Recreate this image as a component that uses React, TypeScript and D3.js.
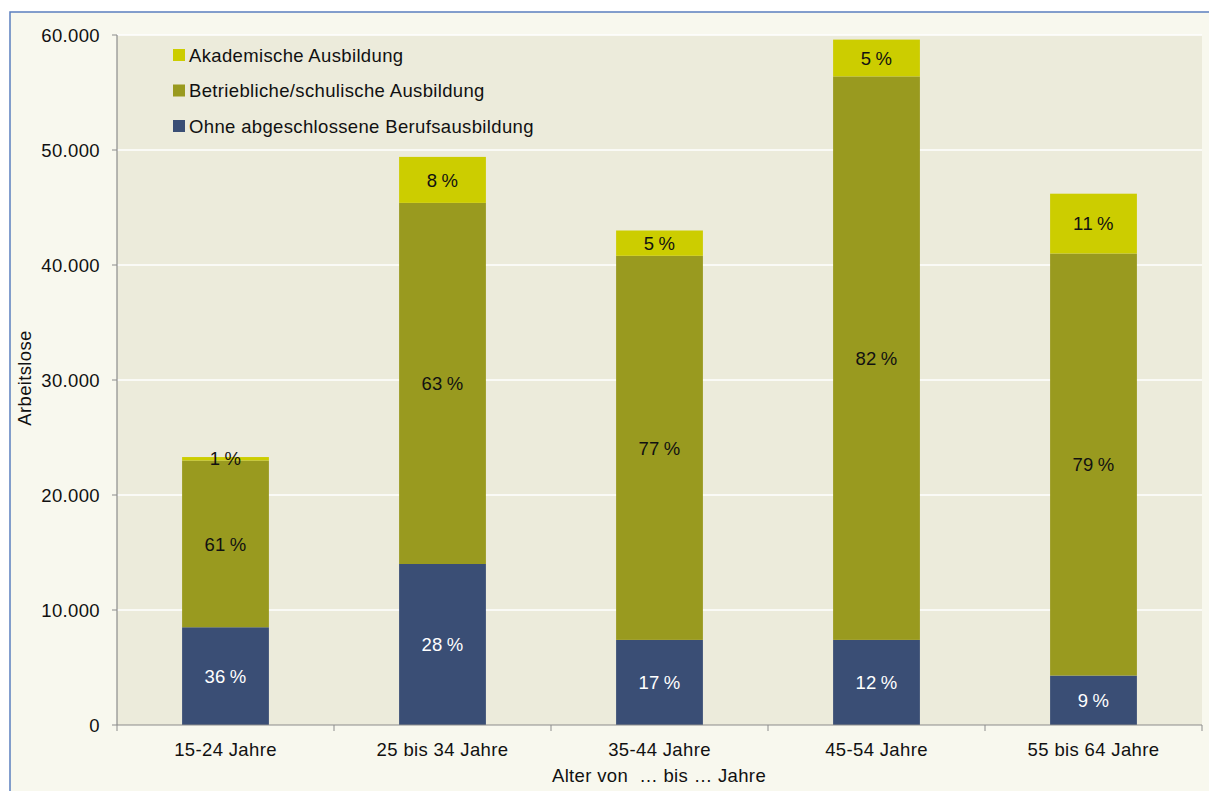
import { useMemo } from "react";
import * as d3 from "d3";

const WIDTH = 1209;
const HEIGHT = 791;
const PLOT = { left: 117, right: 1202, top: 35, bottom: 725 };

const categories = ["15-24 Jahre", "25 bis 34 Jahre", "35-44 Jahre", "45-54 Jahre", "55 bis 64 Jahre"];
const ohneAusbildung = [8500, 14000, 7400, 7400, 4300];
const betrieblich = [14500, 31400, 33400, 49000, 36700];
const akademisch = [300, 4000, 2200, 3200, 5200];

const ohnePct = ["36\u2009%", "28\u2009%", "17\u2009%", "12\u2009%", "9\u2009%"];
const betrieblichPct = ["61\u2009%", "63\u2009%", "77\u2009%", "82\u2009%", "79\u2009%"];
const akademischPct = ["1\u2009%", "8\u2009%", "5\u2009%", "5\u2009%", "11\u2009%"];

const yTicks = [0, 10000, 20000, 30000, 40000, 50000, 60000];

const series = [
    { key: "ohne", name: "Ohne abgeschlossene Berufsausbildung", color: "#3a4e75", text: "#ffffff", values: ohneAusbildung, labels: ohnePct },
    { key: "betr", name: "Betriebliche/schulische Ausbildung", color: "#999a1f", text: "#111111", values: betrieblich, labels: betrieblichPct },
    { key: "akad", name: "Akademische Ausbildung", color: "#cccd00", text: "#111111", values: akademisch, labels: akademischPct },
];

const FONT = "'Liberation Sans', Arial, sans-serif";
const fmt = (v: number) => d3.format(",")(v).replace(/,/g, ".");

export default function App() {
    const xScale = useMemo(
        () => d3.scaleBand<string>().domain(categories).range([PLOT.left, PLOT.right]).padding(0),
        []
    );
    const yScale = useMemo(
        () => d3.scaleLinear().domain([0, 60000]).range([PLOT.bottom, PLOT.top]),
        []
    );

    // stacked rows
    const rows = categories.map((c, i) => {
        const r: Record<string, number | string> = { cat: c };
        series.forEach((s) => (r[s.key] = s.values[i]));
        return r;
    });
    const stacked = d3.stack<Record<string, number | string>>().keys(series.map((s) => s.key))(rows);

    const barW = xScale.bandwidth() * 0.4;
    const textStyle = { fontFamily: FONT, fontSize: 18.5, letterSpacing: 0.35 };

    return (
        <svg width={WIDTH} height={HEIGHT} style={{ position: "absolute", left: 0, top: 0 }}>
            <rect x={0} y={0} width={WIDTH} height={HEIGHT} fill="#ffffff" />
            <rect x={10} y={12} width={WIDTH} height={HEIGHT} fill="#f8f8ee" stroke="#5b7fbe" strokeWidth={1.5} />

            {/* plot area */}
            <rect x={PLOT.left} y={PLOT.top} width={PLOT.right - PLOT.left} height={PLOT.bottom - PLOT.top} fill="#ecebdb" />
            {yTicks.slice(1).map((t) => (
                <line key={t} x1={PLOT.left} x2={PLOT.right} y1={yScale(t)} y2={yScale(t)} stroke="#ffffff" strokeWidth={1.5} />
            ))}

            {/* bars */}
            {stacked.map((layer, li) => (
                <g key={layer.key}>
                    {layer.map((d, i) => {
                        const x = (xScale(categories[i]) ?? 0) + (xScale.bandwidth() - barW) / 2;
                        return (
                            <rect key={i} x={x} y={yScale(d[1])} width={barW} height={yScale(d[0]) - yScale(d[1])} fill={series[li].color} />
                        );
                    })}
                </g>
            ))}

            {/* bar labels */}
            {stacked.map((layer, li) =>
                layer.map((d, i) => (
                    <text
                        key={`${layer.key}-${i}`}
                        x={(xScale(categories[i]) ?? 0) + xScale.bandwidth() / 2}
                        y={yScale((d[0] + d[1]) / 2)}
                        dy="0.36em"
                        textAnchor="middle"
                        fill={series[li].text}
                        style={textStyle}
                    >
                        {series[li].labels[i]}
                    </text>
                ))
            )}

            {/* axes */}
            <line x1={PLOT.left} x2={PLOT.left} y1={PLOT.top} y2={PLOT.bottom} stroke="#8c8c8c" strokeWidth={1.2} />
            <line x1={PLOT.left} x2={PLOT.right} y1={PLOT.bottom} y2={PLOT.bottom} stroke="#8c8c8c" strokeWidth={1.2} />
            {yTicks.map((t) => (
                <g key={t}>
                    <line x1={PLOT.left - 5} x2={PLOT.left} y1={yScale(t)} y2={yScale(t)} stroke="#8c8c8c" />
                    <text x={100} y={yScale(t)} dy="0.36em" textAnchor="end" fill="#111" style={textStyle}>
                        {fmt(t)}
                    </text>
                </g>
            ))}
            {categories.map((c) => (
                <g key={c}>
                    <line x1={xScale(c)} x2={xScale(c)} y1={PLOT.bottom} y2={PLOT.bottom + 6} stroke="#8c8c8c" />
                    <text x={(xScale(c) ?? 0) + xScale.bandwidth() / 2} y={756} textAnchor="middle" fill="#111" style={textStyle}>
                        {c}
                    </text>
                </g>
            ))}
            <line x1={PLOT.right} x2={PLOT.right} y1={PLOT.bottom} y2={PLOT.bottom + 6} stroke="#8c8c8c" />

            {/* axis titles */}
            <text x={659} y={782} textAnchor="middle" fill="#111" style={textStyle}>
                Alter von {"\u00a0"}… bis … Jahre
            </text>
            <text transform="translate(31,378) rotate(-90)" textAnchor="middle" fill="#111" style={textStyle}>
                Arbeitslose
            </text>

            {/* legend */}
            {[...series].reverse().map((s, i) => (
                <g key={s.key} transform={`translate(173,${55 + i * 35.5})`}>
                    <rect x={0} y={-6} width={12} height={12} fill={s.color} />
                    <text x={16} y={0} dy="0.36em" fill="#111" style={textStyle}>
                        {s.name}
                    </text>
                </g>
            ))}
        </svg>
    );
}
